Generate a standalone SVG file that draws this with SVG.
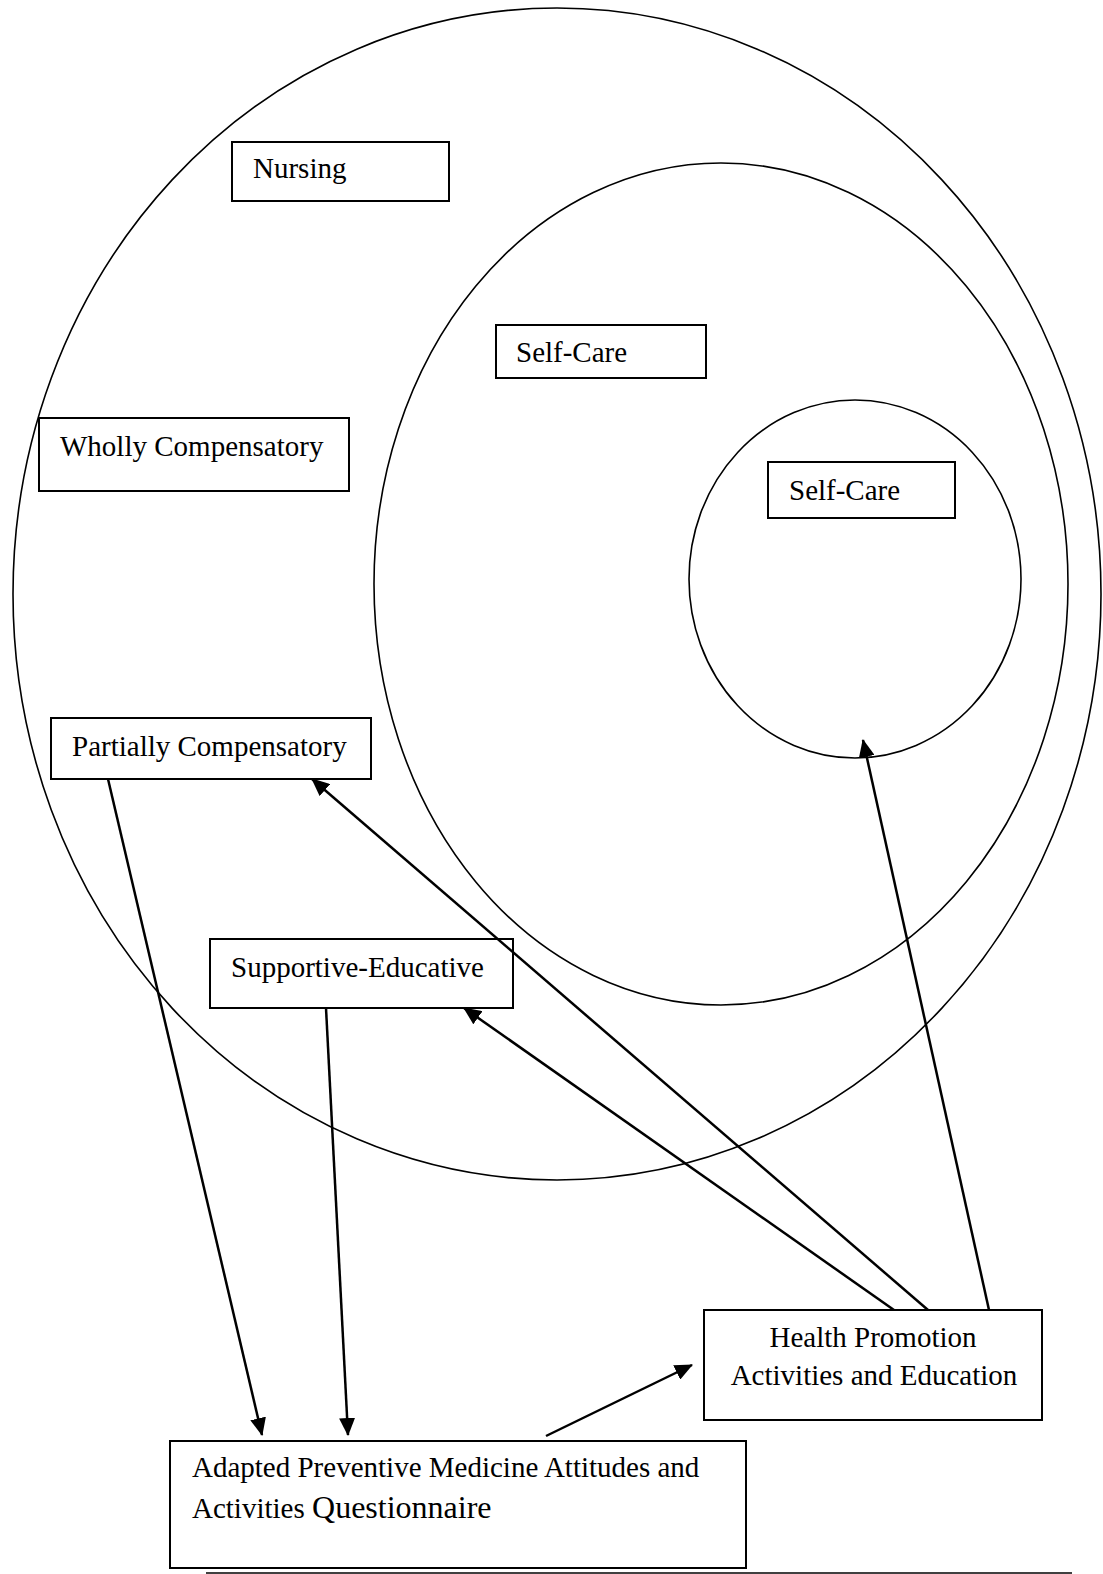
<svg xmlns="http://www.w3.org/2000/svg" width="1103" height="1574" viewBox="0 0 1103 1574">
<style>
.ell{fill:none;stroke:#000;stroke-width:1.6}
.box{fill:#fff;stroke:#000;stroke-width:2}
.t{font-family:"Liberation Serif","Times New Roman",serif;font-size:29px;fill:#000}
.c{fill:none;stroke:#000;stroke-width:2.5}
</style>
<defs>
<marker id="ah" viewBox="0 0 18 16" refX="17" refY="8" markerWidth="18" markerHeight="16" markerUnits="userSpaceOnUse" orient="auto">
<path d="M0,0 L18,8 L0,16 z" fill="#000"/>
</marker>
</defs>
<rect width="1103" height="1574" fill="#fff"/>
<g id="circles">
<ellipse class="ell" cx="557" cy="594" rx="544" ry="586"/>
<ellipse class="ell" cx="721" cy="584" rx="347" ry="421"/>
<ellipse class="ell" cx="855" cy="579" rx="166" ry="179"/>
</g>
<g id="nursing"><rect class="box" x="232" y="142" width="217" height="59"/><text class="t" x="253" y="178">Nursing</text></g>
<g id="selfcare1"><rect class="box" x="496" y="325" width="210" height="53"/><text class="t" x="516" y="362">Self-Care</text></g>
<g id="selfcare2"><rect class="box" x="768" y="462" width="187" height="56"/><text class="t" x="789" y="500">Self-Care</text></g>
<g id="wholly"><rect class="box" x="39" y="418" width="310" height="73"/><text class="t" x="60" y="456">Wholly Compensatory</text></g>
<g id="partially"><rect class="box" x="51" y="718" width="320" height="61"/><text class="t" x="72" y="756">Partially Compensatory</text></g>
<g id="supportive"><rect class="box" x="210" y="939" width="303" height="69"/><text class="t" x="231" y="977">Supportive-Educative</text></g>
<g id="health"><rect class="box" x="704" y="1310" width="338" height="110"/><text class="t" x="873" y="1347" text-anchor="middle">Health Promotion</text><text class="t" x="874" y="1385" text-anchor="middle">Activities and Education</text></g>
<g id="adapted"><rect class="box" x="170" y="1441" width="576" height="127"/><text class="t" x="192" y="1477">Adapted Preventive Medicine Attitudes and</text><text class="t" x="192" y="1518">Activities <tspan style="font-size:32px">Questionnaire</tspan></text></g>
<g id="connectors">
<line class="c" x1="928" y1="1310" x2="312" y2="779" marker-end="url(#ah)"/>
<line class="c" x1="894" y1="1310" x2="464" y2="1008" marker-end="url(#ah)"/>
<line class="c" x1="989" y1="1310" x2="863" y2="740" marker-end="url(#ah)"/>
<line class="c" x1="108" y1="779" x2="262" y2="1435" marker-end="url(#ah)"/>
<line class="c" x1="326" y1="1008" x2="348" y2="1435" marker-end="url(#ah)"/>
<line class="c" x1="546" y1="1436" x2="692" y2="1365" marker-end="url(#ah)"/>
</g>
<line x1="206" y1="1573" x2="1072" y2="1573" stroke="#000" stroke-width="1.5"/>
</svg>
